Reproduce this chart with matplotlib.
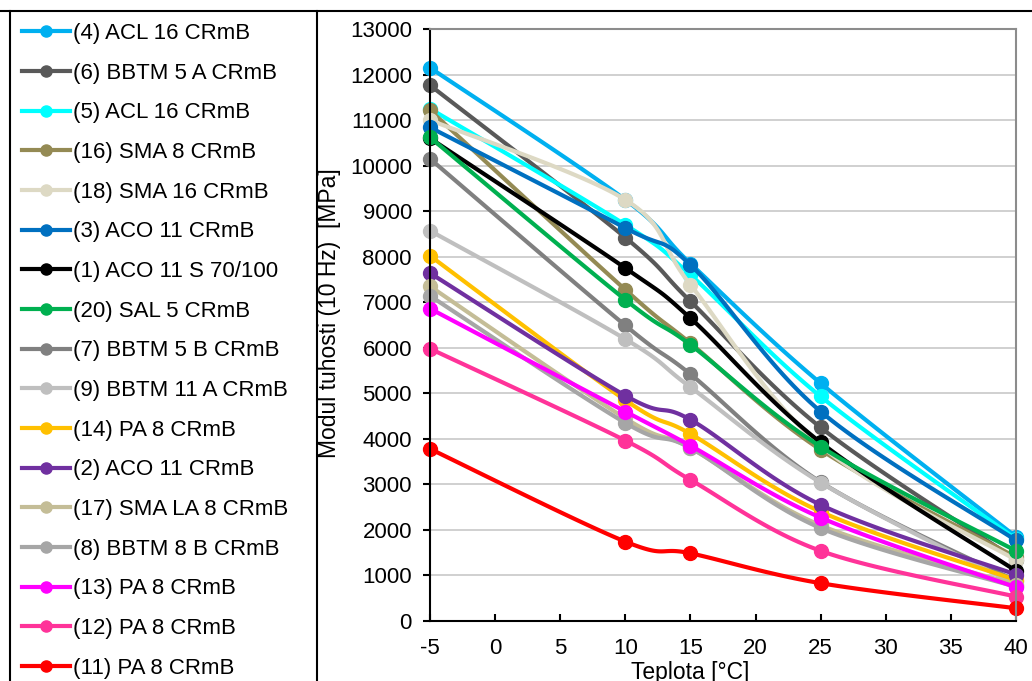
import numpy as np
import matplotlib.pyplot as plt
from matplotlib.lines import Line2D

plt.rcParams['font.family'] = ['Liberation Sans', 'DejaVu Sans']
plt.rcParams['axes.unicode_minus'] = False

# --- data ---
temps = [-5, 10, 15, 25, 40]

labels = ['(4) ACL 16 CRmB', '(6) BBTM 5 A CRmB', '(5) ACL 16 CRmB',
          '(16) SMA 8 CRmB', '(18) SMA 16 CRmB', '(3) ACO 11 CRmB',
          '(1) ACO 11 S 70/100', '(20) SAL 5 CRmB', '(7) BBTM 5 B CRmB',
          '(9) BBTM 11 A CRmB', '(14) PA 8 CRmB', '(2) ACO 11 CRmB',
          '(17) SMA LA 8 CRmB', '(8) BBTM 8 B CRmB', '(13) PA 8 CRmB',
          '(12) PA 8 CRmB', '(11) PA 8 CRmB']

acl16_4 = [12150, 9250, 7850, 5220, 1850]
bbtm5a_6 = [11765, 8420, 7020, 4250, 1350]
acl16_5 = [11250, 8700, 7600, 4930, 1800]
sma8_16 = [11215, 7275, 6100, 3760, 1400]
sma16_18 = [11000, 9250, 7385, 3850, 1340]
aco11_3 = [10840, 8630, 7820, 4600, 1770]
aco11s_1 = [10600, 7750, 6650, 3920, 1100]
sal5_20 = [10620, 7055, 6065, 3830, 1540]
bbtm5b_7 = [10150, 6490, 5420, 3050, 880]
bbtm11a_9 = [8570, 6190, 5135, 3040, 800]
pa8_14 = [8020, 4850, 4110, 2400, 900]
aco11_2 = [7640, 4950, 4420, 2550, 1020]
smala8_17 = [7350, 4450, 3800, 2100, 800]
bbtm8b_8 = [7140, 4350, 3800, 2040, 750]
pa8_13 = [6860, 4600, 3850, 2270, 740]
pa8_12 = [5980, 3963, 3100, 1540, 535]
pa8_11 = [3780, 1743, 1487, 830, 280]

series = [acl16_4, bbtm5a_6, acl16_5, sma8_16, sma16_18, aco11_3, aco11s_1,
          sal5_20, bbtm5b_7, bbtm11a_9, pa8_14, aco11_2, smala8_17, bbtm8b_8,
          pa8_13, pa8_12, pa8_11]

colors = ['#00B0F0', '#595959', '#00FFFF', '#948A54', '#DDD9C4', '#0070C0',
          '#000000', '#00B050', '#808080', '#BFBFBF', '#FFC000', '#7030A0',
          '#C4BD97', '#A6A6A6', '#FF00FF', '#FF3399', '#FF0000']


def smooth(x, y, n=30):
    # bezier smoothing similar to a spreadsheet "smoothed line"
    p = np.column_stack([x, y]).astype(float)
    ext = np.vstack([p[0], p, p[-1]])
    t = np.linspace(0, 1, n)[:, None]
    out = []
    for i in range(len(p) - 1):
        p0, p1 = ext[i + 1], ext[i + 2]
        c1 = p0 + (ext[i + 2] - ext[i]) / 6
        c2 = p1 - (ext[i + 3] - ext[i + 1]) / 6
        seg = ((1 - t) ** 3 * p0 + 3 * (1 - t) ** 2 * t * c1
               + 3 * (1 - t) * t ** 2 * c2 + t ** 3 * p1)
        out.append(seg if i == 0 else seg[1:])
    out = np.vstack(out)
    return out[:, 0], out[:, 1]


fig = plt.figure(figsize=(10.32, 6.81), dpi=100)
ax = fig.add_axes([430 / 1032, 1 - 621 / 681, 586 / 1032, 592 / 681])

for vals, col in zip(series, colors):
    xs, ys = smooth(temps, vals)
    ax.plot(xs, ys, color=col, lw=3, solid_capstyle='round', clip_on=False)
    ax.plot(temps, vals, 'o', color=col, ms=10, clip_on=False)

ax.set_xlim(-5, 40)
ax.set_ylim(0, 13000)
ax.set_xticks(range(-5, 41, 5))
ax.set_yticks(range(0, 13001, 1000))
ax.yaxis.grid(True, color='#C8C8C8', lw=1.2)
ax.set_axisbelow(True)
ax.tick_params(axis='y', direction='out', length=5, width=1.5, labelsize=16, pad=8)
ax.tick_params(axis='x', direction='in', length=5, width=1.5, labelsize=16, pad=12)
for s in ['left', 'bottom']:
    ax.spines[s].set_color('black')
    ax.spines[s].set_linewidth(1.5)
for s in ['top', 'right']:
    ax.spines[s].set_color('#8C8C8C')
    ax.spines[s].set_linewidth(1.5)

ax.set_ylabel('Modul tuhosti (10 Hz)  [MPa]', fontsize=16.5)
ax.yaxis.set_label_coords((341 - 430) / 586, 0.52)
ax.set_xlabel('Teplota [°C]', fontsize=16.5, va='top')
ax.xaxis.set_label_coords((690 - 430) / 586, -0.068)

handles = [Line2D([], [], color=c, lw=3, marker='o', ms=8) for c in colors]
fig.legend(handles, labels, loc='upper left', bbox_to_anchor=(22 / 1032, 1 - 23 / 681),
           frameon=False, fontsize=16, handlelength=2.16, handletextpad=0.14,
           labelspacing=0.84, borderaxespad=0, borderpad=0)

# chart / legend frame
fig.add_artist(Line2D([0, 1], [1 - 11 / 681] * 2, color='black', lw=1.5))
fig.add_artist(Line2D([10 / 1032] * 2, [0, 1 - 11 / 681], color='black', lw=1.5))
fig.add_artist(Line2D([317 / 1032] * 2, [0, 1 - 11 / 681], color='black', lw=1.5))

fig.savefig('out.png', dpi=100)
